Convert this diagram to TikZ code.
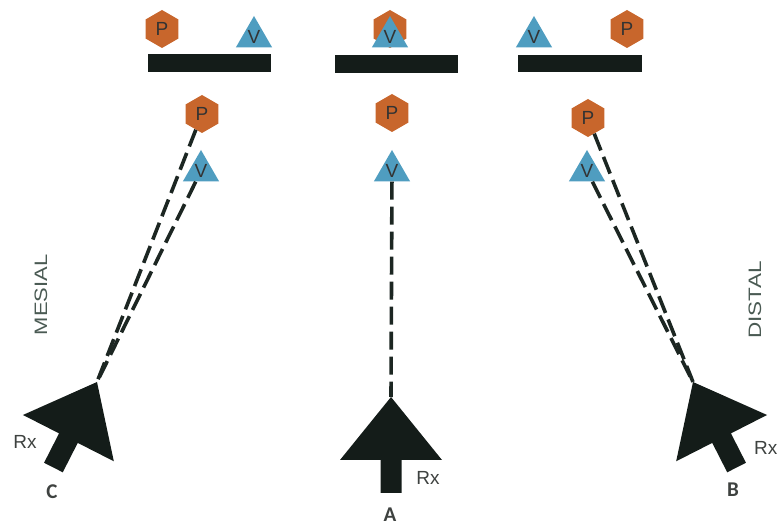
\documentclass[tikz,border=0pt]{standalone}
\usepackage{graphicx}
\usepackage{fontspec}
\setmainfont{Liberation Sans}
\newfontfamily\lblfont{Carlito}
\usetikzlibrary{shapes.geometric}

\definecolor{hexfill}{HTML}{C8662C}
\definecolor{trifill}{HTML}{4F9DC0}
\definecolor{barfill}{HTML}{141C19}
\definecolor{inkdark}{HTML}{1C2622}
\definecolor{txtgray}{HTML}{3E4240}
\definecolor{sidegray}{HTML}{4A5A53}

\tikzset{
  hexnode/.style={regular polygon, regular polygon sides=6, shape border rotate=30,
    fill=hexfill, minimum size=38pt, inner sep=0pt, text=black!80,
    font=\fontsize{19}{19}\selectfont},
  trinode/.style={regular polygon, regular polygon sides=3,
    fill=trifill, minimum size=42pt, inner sep=0pt, text=black!80,
    font=\fontsize{19}{19}\selectfont},
  barshape/.style={fill=barfill},
  dashline/.style={draw=inkdark, line width=3.6pt, dash pattern=on 18pt off 7pt},
  rxlabel/.style={text=txtgray, font=\fontsize{19}{19}\selectfont, inner sep=0pt},
  letterlabel/.style={text=txtgray, font=\lblfont\bfseries\fontsize{21}{21}\selectfont, inner sep=0pt},
  sidelabel/.style={text=sidegray, font=\fontsize{18}{18}\selectfont, rotate=90, inner sep=0pt}
}

% film-holder arrow: tip at #1, turned by #2 degrees
\newcommand{\rxarrow}[2]{%
  \fill[barfill, shift={(#1)}, rotate=#2]
    (0,0) -- (-51,63) -- (-10.5,63) -- (-10.5,96) -- (10.5,96) -- (10.5,63) -- (51,63) -- cycle;}

\begin{document}
\begin{tikzpicture}[x=1pt, y=-1pt]
  \useasboundingbox (0,0) rectangle (780,529);

  % top row: bars with the projected roots
  \fill[barshape] (148,54) rectangle (271,72);
  \fill[barshape] (335,55) rectangle (458,73);
  \fill[barshape] (518,55) rectangle (642,72);

  \node[hexnode] (tpl) at (162,29) {P};
  \node[trinode] (tvl) at (254,37) {V};

  \node[hexnode] (tpm) at (390,29) {};
  \node[trinode] (tvm) at (390,37) {V};

  \node[trinode] (tvr) at (534,37) {V};
  \node[hexnode] (tpr) at (627,29) {P};

  % lower row: object positions
  \node[hexnode] (pl) at (202,114) {P};
  \node[trinode] (vl) at (201,171) {V};
  \node[hexnode] (pm) at (392,113) {P};
  \node[trinode] (vm) at (392,171) {V};
  \node[hexnode] (pr) at (588,118) {P};
  \node[trinode] (vr) at (587,171) {V};

  % tube positions
  \coordinate (tipC) at (97,382);
  \coordinate (tipA) at (391,397);
  \coordinate (tipB) at (693,382);

  \rxarrow{tipC}{-27}
  \rxarrow{tipA}{0}
  \rxarrow{tipB}{27}

  % beams
  \draw[dashline] (pl) -- (tipC);
  \draw[dashline] (vl) -- (tipC);
  \draw[dashline] (vm) -- (tipA);
  \draw[dashline] (pr) -- (tipB);
  \draw[dashline] (vr) -- (tipB);

  % labels
  \node[rxlabel] (rxc) at (25,442) {Rx};
  \node[rxlabel] (rxa) at (428,478) {Rx};
  \node[rxlabel, anchor=west] (rxb) at (754,448) {Rx};

  \node[letterlabel] (lc) at (52,492) {C};
  \node[letterlabel] (la) at (390,515) {A};
  \node[letterlabel] (lb) at (733,490) {B};

  \node[sidelabel] (mesial) at (41,295) {\scalebox{1.22}[1]{MESIAL}};
  \node[sidelabel] (distal) at (755,300) {\scalebox{1.25}[1]{DISTAL}};
\end{tikzpicture}
\end{document}
